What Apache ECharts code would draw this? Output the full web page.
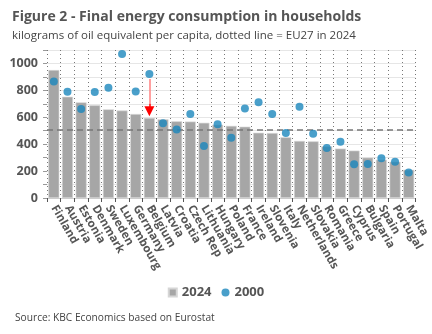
<!DOCTYPE html>
<html><head><meta charset="utf-8">
<script src="https://cdn.jsdelivr.net/npm/echarts@6/dist/echarts.min.js"></script>
<style>html,body{margin:0;padding:0;background:#fff}#c{width:432px;height:334px}</style>
</head><body><div id="c"></div>
<script>
var countries = ["Finland","Austria","Estonia","Denmark","Sweden","Luxembourg","Germany","Belgium","Latvia","Croatia","Czech Rep","Lithuania","Hungary","Poland","France","Ireland","Slovenia","Italy","Netherlands","Slovakia","Romania","Greece","Cyprus","Bulgaria","Spain","Portugal","Malta"];
var values2024 = [951,752,711,689,659,650,624,595,585,570,568,559,545,536,530,485,483,451,424,421,384,367,352,300,285,270,210];
var values2000 = [866,790,661,788,820,1070,792,922,556,509,625,386,548,447,665,711,624,483,679,477,372,419,250,253,295,270,190];
var eu27_2024 = 505;
var arrowFrom = 885, arrowMid = 700, arrowTo = 644;
var yTicks = [0,200,400,600,800,1000];

var txt = '#555555';
var font = '"Open Sans", "Noto Sans", sans-serif';
var chart = echarts.init(document.getElementById('c'), null, {renderer:'canvas'});
chart.setOption({
  animation:false,
  backgroundColor:'#ffffff',
  title:[
    {text:'Figure 2 - Final energy consumption in households', left:7, top:5,
     textStyle:{fontFamily:font, fontSize:14, fontWeight:'bold', color:txt}},
    {text:'kilograms of oil equivalent per capita, dotted line = EU27 in 2024', left:7, top:25,
     textStyle:{fontFamily:font, fontSize:11.5, fontWeight:'normal', color:'#444'}},
    {text:'Source: KBC Economics based on Eurostat', left:10, top:308,
     textStyle:{fontFamily:font, fontSize:10.2, fontWeight:'normal', color:'#444'}}
  ],
  legend:{
    data:[{name:'2024', icon:'rect'},{name:'2000', icon:'circle'}],
    left:'center', top:281, itemWidth:8, itemHeight:8, itemGap:10,
    textStyle:{fontFamily:font, fontSize:13, fontWeight:'bold', color:txt}
  },
  grid:{left:47, right:16, top:50, bottom:136},
  xAxis:{
    type:'category', data:countries,
    axisLine:{lineStyle:{color:'#cccccc'}},
    axisTick:{show:true, length:4, lineStyle:{color:'#555'}},
    splitLine:{show:true, lineStyle:{color:'#777', type:[1,3], width:1}},
    axisLabel:{rotate:-60, interval:0, margin:8, fontFamily:font, fontSize:11.5, fontWeight:'bold', color:txt}
  },
  yAxis:{
    type:'value', min:0, max:1100, interval:100,
    axisLine:{show:false},
    axisTick:{show:true, length:4, lineStyle:{color:'#999'}},
    splitLine:{show:true, lineStyle:{color:'#e6e6e6', width:1}},
    axisLabel:{margin:9, fontFamily:font, fontSize:12.5, fontWeight:'bold', color:txt,
      formatter:function(v){return yTicks.indexOf(v)>=0 ? String(v) : '';}}
  },
  series:[
    {name:'2024', type:'bar', data:values2024, barCategoryGap:'20%',
     itemStyle:{color:'#a6a6a6', borderColor:'#d6d6d6', borderWidth:0.6},
     markLine:{silent:true, symbol:['none','none'], label:{show:false},
       lineStyle:{color:'#777', type:[6,4], width:1.5},
       data:[{yAxis:eu27_2024}]}
    },
    {name:'2000', type:'scatter', data:values2000, symbolSize:8,
     itemStyle:{color:'#1b87bd'}, z:5,
     markLine:{silent:true, label:{show:false},
       data:[
         [{coord:['Belgium',arrowFrom], symbol:'none', lineStyle:{color:'#ff8080', width:1.5, type:'solid'}},
          {coord:['Belgium',arrowMid], symbol:'none'}],
         [{coord:['Belgium',arrowMid], symbol:'none', lineStyle:{color:'#ff0000', width:1.5, type:'solid'}},
          {coord:['Belgium',arrowTo], symbol:'triangle', symbolSize:[10,10]}]
       ]}
    }
  ]
});
</script></body></html>
